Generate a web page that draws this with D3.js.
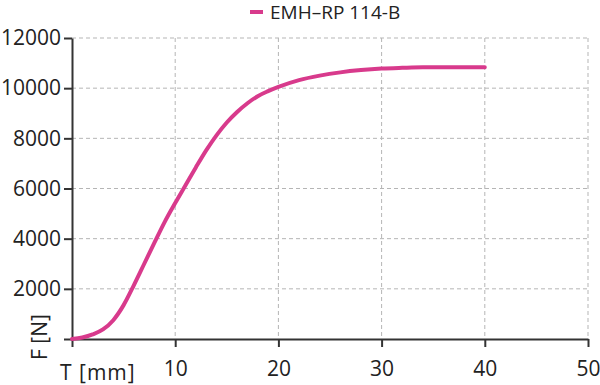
<!DOCTYPE html>
<html>
<head>
<meta charset="utf-8">
<script src="https://cdn.jsdelivr.net/npm/d3@7"></script>
<style>
  body { margin: 0; background: #fff; }
  svg text { font-family: 'Open Sans', sans-serif; fill: #222; }
  .grid line { stroke: #b5b5b5; stroke-width: 1; stroke-dasharray: 4,3; }
  .axis path, .axis line { stroke: #333; stroke-width: 2; }
</style>
</head>
<body>
<div id="chart"></div>
<script>
'use strict';

// travel T [mm]
var travel = [ 0, 1, 2, 3, 4, 5, 6, 7, 8, 9, 10, 11, 12, 13, 14, 15, 16, 17, 18, 19, 20,
               22, 24, 26, 28, 30, 32, 34, 36, 38, 40 ];
// force F [N]
var force = [ 0, 60, 180, 380, 750, 1350, 2150, 3000, 3850, 4680, 5420, 6130, 6840, 7520, 8120,
              8630, 9050, 9400, 9680, 9880, 10050, 10320, 10500, 10630, 10720, 10780, 10810,
              10830, 10830, 10830, 10830 ];
var seriesName = 'EMH\u2013RP 114-B';
var xTicks = [ 10, 20, 30, 40, 50 ];
var yTicks = [ 0, 2000, 4000, 6000, 8000, 10000, 12000 ];

var margin = { top: 38, right: 12, bottom: 46, left: 72 },
    width = 600 - margin.left - margin.right,
    height = 385 - margin.top - margin.bottom;

var x = d3.scaleLinear().domain( [ 0, 50 ] ).range( [ 0, width ] );
var y = d3.scaleLinear().domain( [ 0, 12000 ] ).range( [ height, 0 ] );

var svg = d3.select( '#chart' )
  .append( 'svg' )
    .attr( 'width', 600 )
    .attr( 'height', 385 )
  .append( 'g' )
    .attr( 'transform', 'translate(' + margin.left + ',' + margin.top + ')' );

// grid
var grid = svg.append( 'g' ).classed( 'grid', true );
grid.selectAll( '.gx' )
  .data( xTicks )
  .enter().append( 'line' )
    .attr( 'x1', function( d ) { return x( d ); } )
    .attr( 'x2', function( d ) { return x( d ); } )
    .attr( 'y1', 0 )
    .attr( 'y2', height );
grid.selectAll( '.gy' )
  .data( yTicks.filter( function( d ) { return d > 0; } ) )
  .enter().append( 'line' )
    .attr( 'x1', 0 )
    .attr( 'x2', width )
    .attr( 'y1', function( d ) { return y( d ); } )
    .attr( 'y2', function( d ) { return y( d ); } );

// axes
var xAxis = svg.append( 'g' )
  .classed( 'axis', true )
  .attr( 'transform', 'translate(0,' + height + ')' )
  .call( d3.axisBottom( x ).tickValues( [ 0 ].concat( xTicks ) ).tickSize( 8 ).tickSizeOuter( 0 ).tickPadding( 14 ) );
xAxis.selectAll( 'text' )
  .style( 'font-size', '21px' )
  .text( function( d ) { return d === 0 ? '' : d; } );

var yAxis = svg.append( 'g' )
  .classed( 'axis', true )
  .call( d3.axisLeft( y ).tickValues( yTicks ).tickSize( 8 ).tickSizeOuter( 0 ).tickPadding( 3 ) );
yAxis.selectAll( 'text' )
  .style( 'font-size', '21px' )
  .text( function( d ) { return d === 0 ? '' : d; } );
svg.selectAll( '.axis .domain' ).attr( 'fill', 'none' );

// curve
var pts = travel.map( function( t, i ) { return { x: t, y: force[i] }; } );
var line = d3.line()
  .x( function( d ) { return x( d.x ); } )
  .y( function( d ) { return y( d.y ); } )
  .curve( d3.curveMonotoneX );
svg.append( 'path' )
  .attr( 'd', line( pts ) )
  .attr( 'fill', 'none' )
  .attr( 'stroke', '#d83a8c' )
  .attr( 'stroke-width', 4 )
  .attr( 'stroke-linecap', 'round' );

// axis labels
svg.append( 'text' )
  .attr( 'x', -12 )
  .attr( 'y', height + 41 )
  .style( 'font-size', '21px' )
  .style( 'letter-spacing', '1px' )
  .text( 'T [mm]' );
svg.append( 'text' )
  .attr( 'transform', 'rotate(-90)' )
  .attr( 'x', -( 337 - margin.top ) )
  .attr( 'y', -25 )
  .attr( 'text-anchor', 'middle' )
  .style( 'font-size', '21px' )
  .text( 'F [N]' );

// legend
var legend = svg.append( 'g' ).attr( 'transform', 'translate(' + ( 250 - margin.left ) + ',' + ( 12 - margin.top ) + ')' );
legend.append( 'line' )
  .attr( 'x1', 0 ).attr( 'x2', 13 )
  .attr( 'y1', 0 ).attr( 'y2', 0 )
  .attr( 'stroke', '#d83a8c' )
  .attr( 'stroke-width', 4 );
legend.append( 'text' )
  .attr( 'x', 20 )
  .attr( 'y', 7 )
  .style( 'font-size', '19px' )
  .text( seriesName );
</script>
</body>
</html>
